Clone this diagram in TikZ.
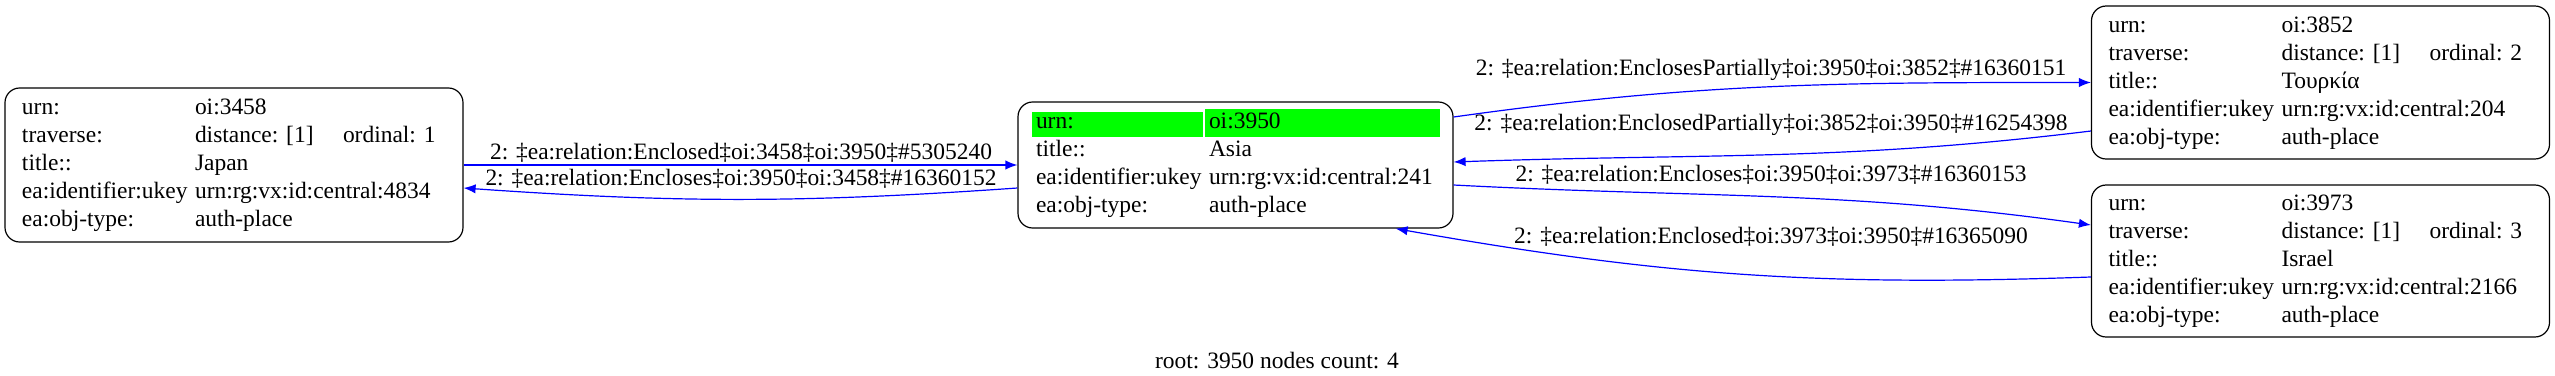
\documentclass[tikz,border=0pt]{standalone}
\usepackage{fontspec}
\setmainfont{Liberation Serif}
\usetikzlibrary{arrows.meta}
\newlength\px \setlength\px{0.75pt}
\setlength\tabcolsep{0pt}
\newcommand{\greencell}[2]{\hspace*{-4\px}{\setlength\fboxsep{3pt}\colorbox{green}{\rule[-3.75pt]{0pt}{12.75pt}\makebox[#1][l]{#2}}}}

\begin{document}
\begin{tikzpicture}[x=0.75pt, y=-0.75pt,
  rec/.style={draw=black, line width=0.9pt, rounded corners=11pt, inner sep=0pt, font=\fontsize{17.6}{21}\selectfont},
  lbl/.style={inner sep=0pt, font=\fontsize{17.6}{21}\selectfont},
  rel/.style={draw=blue, line width=0.9pt, -{Latex[length=9pt,width=7pt]}}]
\useasboundingbox (0,0) rectangle (2555,375);
% root node and its three neighbours
\node[rec, minimum height=126\px] (asia) at (1235.5,165) {%
  \begin{tabular}{@{\hspace{18\px}}p{173\px}p{231\px}@{\hspace{13\px}}}
  \greencell{122.25pt}{urn:} & \greencell{170.25pt}{oi:3950}\\
  title:: & Asia\\
  ea:identifier:ukey & urn:rg:vx:id:central:241\\
  ea:obj-type: & auth-place
  \end{tabular}};
\node[rec, minimum height=154\px] (japan) at (234,165) {%
  \begin{tabular}{@{\hspace{17\px}}p{173\px}p{148\px}p{120\px}@{}}
  urn: & oi:3458 & \\
  traverse: & distance: [1] & ordinal: 1\\
  title:: & Japan & \\
  ea:identifier:ukey & urn:rg:vx:id:central:4834 & \\
  ea:obj-type: & auth-place &
  \end{tabular}};
\node[rec, minimum height=153\px] (turkey) at (2320.5,82.5) {%
  \begin{tabular}{@{\hspace{17\px}}p{173\px}p{148\px}p{120\px}@{}}
  urn: & oi:3852 & \\
  traverse: & distance: [1] & ordinal: 2\\
  title:: & Τουρκία & \\
  ea:identifier:ukey & urn:rg:vx:id:central:204 & \\
  ea:obj-type: & auth-place &
  \end{tabular}};
\node[rec, minimum height=152\px] (israel) at (2320.5,261) {%
  \begin{tabular}{@{\hspace{17\px}}p{173\px}p{148\px}p{120\px}@{}}
  urn: & oi:3973 & \\
  traverse: & distance: [1] & ordinal: 3\\
  title:: & Israel & \\
  ea:identifier:ukey & urn:rg:vx:id:central:2166 & \\
  ea:obj-type: & auth-place &
  \end{tabular}};
% relation labels
\node[lbl] (l1) at (741,153) {2: ‡ea:relation:Enclosed‡oi:3458‡oi:3950‡\#5305240};
\node[lbl] (l2) at (741,179) {2: ‡ea:relation:Encloses‡oi:3950‡oi:3458‡\#16360152};
\node[lbl] (l3) at (1771,70) {2: ‡ea:relation:EnclosesPartially‡oi:3950‡oi:3852‡\#16360151};
\node[lbl] (l4) at (1771,125) {2: ‡ea:relation:EnclosedPartially‡oi:3852‡oi:3950‡\#16254398};
\node[lbl] (l5) at (1771,175) {2: ‡ea:relation:Encloses‡oi:3950‡oi:3973‡\#16360153};
\node[lbl] (l6) at (1771,237) {2: ‡ea:relation:Enclosed‡oi:3973‡oi:3950‡\#16365090};
\node[lbl] (caption) at (1277,361) {root: 3950 nodes count: 4};
% relations
\draw[rel] (japan.east) -- (asia.west);
\draw[rel] ([yshift=-23\px]asia.west) to[bend left=4] ([yshift=-23\px]japan.east);
\draw[rel] ([yshift=48\px]asia.east) to[out=8, in=180] (turkey.west);
\draw[rel] ([yshift=-48.5\px]turkey.west) to[out=187, in=2] ([yshift=3\px]asia.east);
\draw[rel] ([yshift=-20\px]asia.east) to[out=-3, in=172] ([yshift=36\px]israel.west);
\draw[rel] ([yshift=-16\px]israel.west) to[out=182, in=-10] ([xshift=-58\px]asia.south east);
\end{tikzpicture}
\end{document}
